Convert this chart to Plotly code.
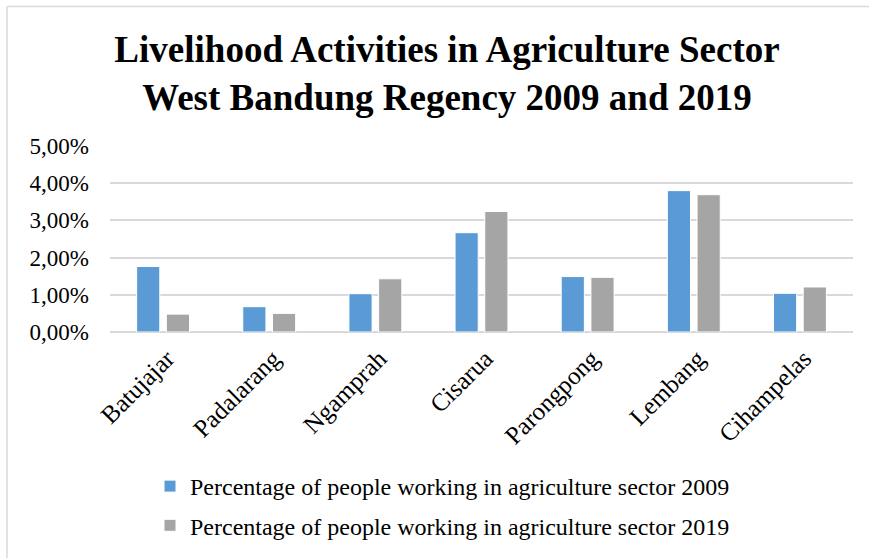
import plotly.graph_objects as go

categories = ["Batujajar", "Padalarang", "Ngamprah", "Cisarua", "Parongpong", "Lembang", "Cihampelas"]
values_2009 = [0.0176, 0.0068, 0.0103, 0.0267, 0.0149, 0.0380, 0.0104]
values_2019 = [0.0048, 0.0050, 0.0143, 0.0324, 0.0147, 0.0369, 0.0121]
name_2009 = "Percentage of people working in agriculture sector 2009"
name_2019 = "Percentage of people working in agriculture sector 2019"
title_text = "<b>Livelihood Activities in Agriculture Sector<br>West Bandung Regency 2009 and 2019</b>"

W, H = 869, 558
L, R, T, B = 110, 16, 146, 226
pw, ph = W - L - R, H - T - B

def px_x(x):
    return (x - L) / pw

def px_y(y):
    return (H - B - y) / ph

fig = go.Figure()
fig.add_trace(go.Bar(x=categories, y=values_2009, name=name_2009, legendgroup="a",
                     marker=dict(color="#5B9BD5", line=dict(color="#FFFFFF", width=1))))
fig.add_trace(go.Bar(x=categories, y=values_2019, name=name_2019, legendgroup="b",
                     marker=dict(color="#A5A5A5", line=dict(color="#FFFFFF", width=1))))

font_family = "Liberation Serif, Times New Roman, serif"

fig.update_layout(
    width=W, height=H,
    margin=dict(l=L, r=R, t=T, b=B, autoexpand=False),
    paper_bgcolor="white", plot_bgcolor="white",
    separators=",.",
    font=dict(family=font_family, size=20, color="#000000"),
    title=dict(text=title_text, x=447 / W, xanchor="center", y=1 - 62 / H, yanchor="middle",
               font=dict(family=font_family, size=37, color="#000000")),
    barmode="group", bargap=0.44, bargroupgap=0.22,
    xaxis=dict(tickangle=-45, showgrid=False, showline=False, ticks="",
               ticklabelstandoff=6, ticklabelshift=4,
               tickfont=dict(size=25, family=font_family)),
    yaxis=dict(range=[0, 0.05], dtick=0.01, tickformat=".2%", showgrid=True,
               gridcolor="#D9D9D9", gridwidth=1.5, zeroline=True, zerolinecolor="#D9D9D9",
               zerolinewidth=1.5, showline=False, ticks="", ticklen=0,
               ticklabelstandoff=20,
               tickfont=dict(size=23, family=font_family)),
    legend=dict(x=px_x(150), xanchor="left", y=px_y(464), yanchor="top",
                orientation="v", tracegroupgap=5, bgcolor="rgba(0,0,0,0)",
                font=dict(size=24, family=font_family)),
    showlegend=True,
    shapes=[
        dict(type="line", xref="paper", yref="paper", x0=px_x(7), x1=px_x(7),
             y0=px_y(6.5), y1=px_y(H + 5), line=dict(color="#D9D9D9", width=1.5)),
        dict(type="line", xref="paper", yref="paper", x0=px_x(7), x1=px_x(W + 5),
             y0=px_y(6.5), y1=px_y(6.5), line=dict(color="#D9D9D9", width=1.5)),
    ],
)

fig.write_html("out.html")
